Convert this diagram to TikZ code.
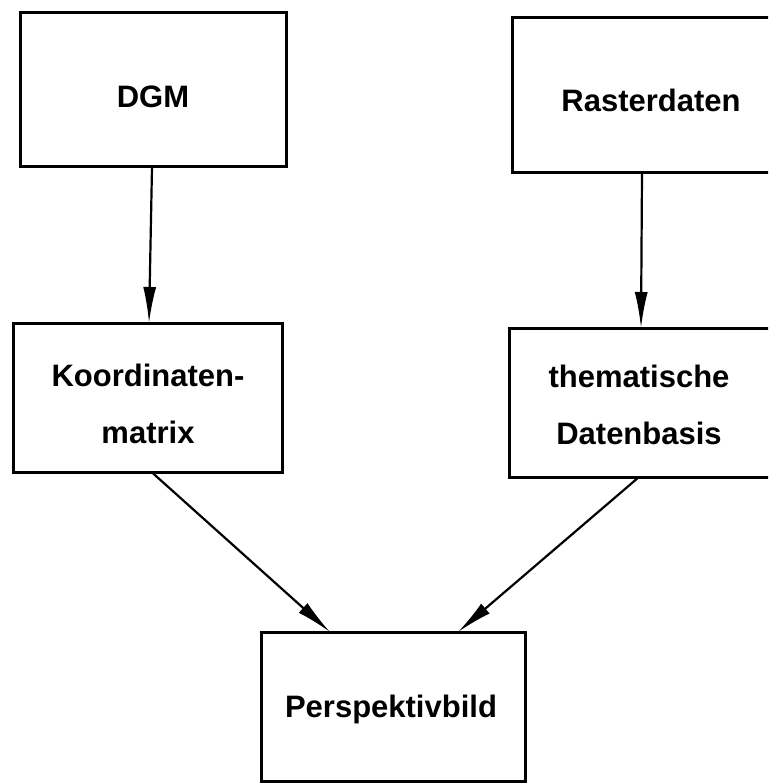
\documentclass[tikz,border=0pt]{standalone}
\usepackage{fontspec}
\setmainfont{Liberation Sans}
\usetikzlibrary{arrows.meta}
\tikzset{
  box/.style={draw=black, line width=3pt, inner sep=0pt, outer sep=0pt},
  lbl/.style={font=\fontsize{31}{57}\selectfont\bfseries, align=center, inner sep=0pt},
  conn/.style={line width=2.2pt, -{Latex[length=36pt,width=13pt]}}
}
\begin{document}
\begin{tikzpicture}[x=1pt,y=-1pt]
\useasboundingbox (0,0) rectangle (768,783);
\clip (0,0) rectangle (768,783);
\fill[white] (0,0) rectangle (768,783);
% boxes
\node[box, minimum width=266pt, minimum height=154pt] (dgm) at (153,90) {};
\node[box, minimum width=278pt, minimum height=155pt] (raster) at (651,95.5) {};
\node[box, minimum width=269pt, minimum height=149pt] (koord) at (147.5,397.5) {};
\node[box, minimum width=262pt, minimum height=149pt] (them) at (640,402.5) {};
\node[box, minimum width=264pt, minimum height=149pt] (persp) at (393,706.5) {};
% labels
\node[lbl] (tdgm) at (153,97) {DGM};
\node[lbl] (traster) at (651,100) {Rasterdaten};
\node[lbl] (tkoord) at (148,404) {Koordinaten-\\matrix};
\node[lbl] (tthem) at (639,405) {thematische\\Datenbasis};
\node[lbl] (tpersp) at (391,709) {Perspektivbild};
% connectors
\draw[conn] ([xshift=-1pt]dgm.south) -- ([xshift=1.5pt]koord.north);
\draw[conn] ([xshift=130pt]raster.south west) -- ([xshift=132pt]them.north west);
\draw[conn] ([xshift=4pt]koord.south) -- ([xshift=69pt]persp.north west);
\draw[conn] ([xshift=-1pt]them.south) -- ([xshift=197pt]persp.north west);
\end{tikzpicture}
\end{document}
